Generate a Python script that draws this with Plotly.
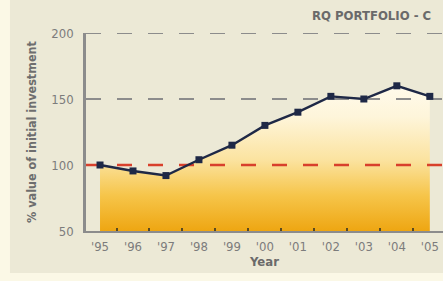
import plotly.graph_objects as go

years = [1995, 1996, 1997, 1998, 1999, 2000, 2001, 2002, 2003, 2004, 2005]
year_labels = ["'95", "'96", "'97", "'98", "'99", "'00", "'01", "'02", "'03", "'04", "'05"]
values = [100, 95.5, 92, 104, 115, 130, 140, 152, 150, 160, 152]
ref_gray = [150, 200]
ref_red = [100]
y_ticks = [50, 100, 150, 200]

x_range = [1994.575, 2005.4]
y_range = [50, 200]

fig = go.Figure()

# gradient fill under the line
fig.add_trace(go.Scatter(
    x=years, y=values, mode="none", fill="tozeroy",
    fillgradient=dict(type="vertical", start=50, stop=158,
                      colorscale=[[0, "#EEA612"], [0.25, "#F6C54A"], [0.5, "#FBE3A0"],
                                  [0.8, "#FEF5DA"], [1, "#FFFAEA"]]),
    hoverinfo="skip", showlegend=False))

dash = "15px,16px"
for v in ref_gray:
    fig.add_trace(go.Scatter(x=x_range, y=[v, v], mode="lines",
                             line=dict(color="#8C8C8C", width=2.2, dash=dash),
                             hoverinfo="skip", showlegend=False))
for v in ref_red:
    fig.add_trace(go.Scatter(x=x_range, y=[v, v], mode="lines",
                             line=dict(color="#D8402C", width=2.4, dash=dash),
                             hoverinfo="skip", showlegend=False))

fig.add_trace(go.Scatter(
    x=years, y=values, mode="lines+markers",
    line=dict(color="#1E2846", width=2.4),
    marker=dict(symbol="square", size=7, color="#1E2846"),
    showlegend=False))

FONT = "DejaVu Sans Condensed, Liberation Sans Narrow, Arial Narrow, sans-serif"
tickfont = dict(family=FONT, size=13, color="#7C7C7C")

fig.update_layout(
    width=443, height=281,
    margin=dict(l=86, r=0, t=33, b=50, autoexpand=False),
    paper_bgcolor="#FBF8E6",
    plot_bgcolor="#ECE9D6",
    shapes=[dict(type="rect", xref="paper", yref="paper", x0=-0.213, x1=1.05,
                 y0=-0.212, y1=1.2, fillcolor="#ECE9D6", line=dict(width=0), layer="below")],
    xaxis=dict(range=x_range, tickmode="array", tickvals=years, ticktext=year_labels,
               automargin=False,
               showgrid=False, zeroline=False, showline=True, linecolor="#8C8C8C", linewidth=2,
               ticks="", tickfont=tickfont, ticklabelstandoff=2,
               minor=dict(tickvals=[y + 0.5 for y in years[:-1]], ticks="inside", ticklen=3,
                          tickcolor="#5A4A20", tickwidth=1.5, showgrid=False),
               title=dict(text="<b>Year</b>", standoff=1,
                          font=dict(family=FONT, size=13, color="#6A6A6A"))),
    yaxis=dict(range=y_range, tickvals=y_ticks, showgrid=False, zeroline=False,
               automargin=False,
               showline=True, linecolor="#8C8C8C", linewidth=2.5, ticks="",
               tickfont=tickfont, ticklabelstandoff=7,
               title=dict(text="<b>% value of initial investment</b>", standoff=12,
                          font=dict(family=FONT, size=12.5, color="#6E6E6E"))),
    annotations=[dict(text="<b>RQ PORTFOLIO - C</b>", xref="paper", yref="paper",
                      x=0.972, y=1.09, xanchor="right", yanchor="middle", showarrow=False,
                      font=dict(family=FONT, size=13, color="#6A6A6A"))],
)

fig.write_html("out.html", config={"displayModeBar": False},
               post_script="document.body.style.margin='0px';")
